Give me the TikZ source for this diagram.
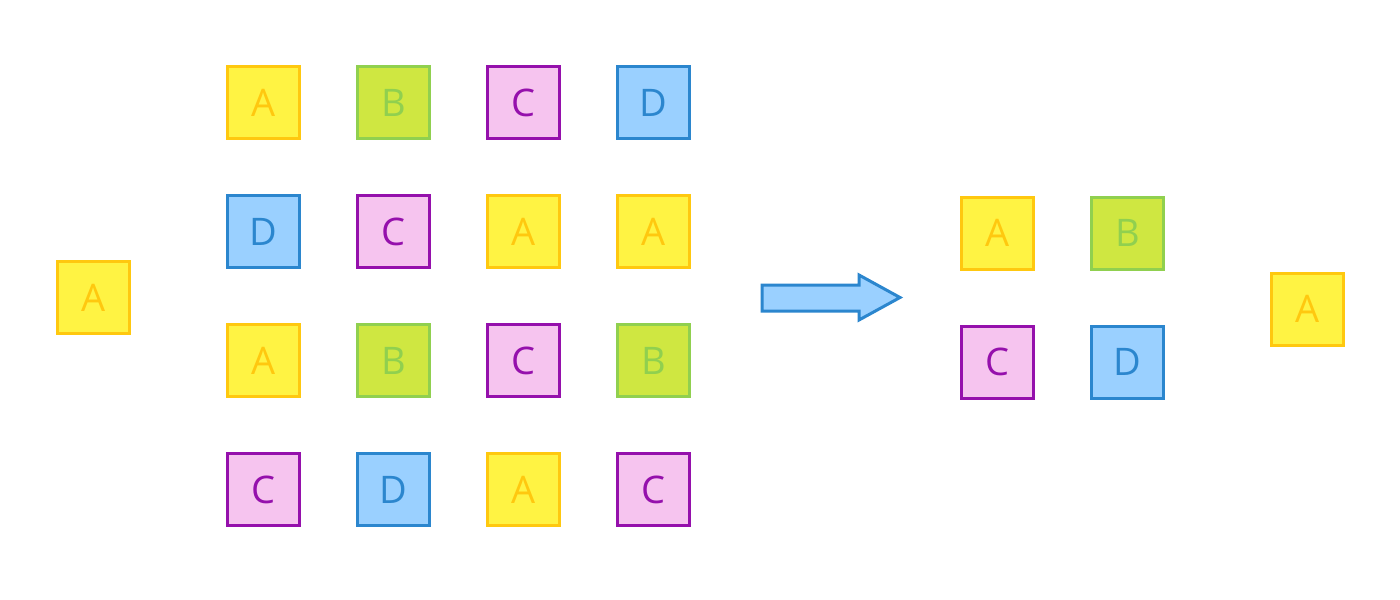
\documentclass[tikz,border=0pt]{standalone}
\usepackage{fontspec}
\setmainfont{Open Sans}
\definecolor{yelFill}{HTML}{FFF343}
\definecolor{yelLine}{HTML}{FFC80F}
\definecolor{grnFill}{HTML}{CFE741}
\definecolor{grnLine}{HTML}{90D04F}
\definecolor{pnkFill}{HTML}{F6C4EF}
\definecolor{pnkLine}{HTML}{9510AC}
\definecolor{bluFill}{HTML}{9AD0FF}
\definecolor{bluLine}{HTML}{2B86CE}
\tikzset{
  card/.style={shape=rectangle,minimum size=36pt,inner sep=0pt,line width=1.5pt,font=\fontsize{19}{19}\selectfont},
  cardA/.style={card,draw=yelLine,fill=yelFill,text=yelLine},
  cardB/.style={card,draw=grnLine,fill=grnFill,text=grnLine},
  cardC/.style={card,draw=pnkLine,fill=pnkFill,text=pnkLine},
  cardD/.style={card,draw=bluLine,fill=bluFill,text=bluLine}
}

\begin{document}
\begin{tikzpicture}[x=0.5pt,y=-0.5pt]
\useasboundingbox (0,0) rectangle (1400,599);

\node[cardA] (in) at (93.5,297.5) {A};

\node[cardA] (g11) at (263.5,102.5) {A};
\node[cardB] (g12) at (393.5,102.5) {B};
\node[cardC] (g13) at (523.5,102.5) {C};
\node[cardD] (g14) at (653.5,102.5) {D};

\node[cardD] (g21) at (263.5,231.5) {D};
\node[cardC] (g22) at (393.5,231.5) {C};
\node[cardA] (g23) at (523.5,231.5) {A};
\node[cardA] (g24) at (653.5,231.5) {A};

\node[cardA] (g31) at (263.5,360.5) {A};
\node[cardB] (g32) at (393.5,360.5) {B};
\node[cardC] (g33) at (523.5,360.5) {C};
\node[cardB] (g34) at (653.5,360.5) {B};

\node[cardC] (g41) at (263.5,489.5) {C};
\node[cardD] (g42) at (393.5,489.5) {D};
\node[cardA] (g43) at (523.5,489.5) {A};
\node[cardC] (g44) at (653.5,489.5) {C};

% arrow
\draw[line width=1.5pt,draw=bluLine,fill=bluFill,line join=miter]
  (762,285) -- (859,285) -- (859,275) -- (900,297.5) -- (859,320) -- (859,311) -- (762,311) -- cycle;

\node[cardA] (r11) at (997.5,233) {A};
\node[cardB] (r12) at (1127.5,233) {B};
\node[cardC] (r21) at (997.5,362) {C};
\node[cardD] (r22) at (1127.5,362) {D};

\node[cardA] (out) at (1307.5,309) {A};
\end{tikzpicture}
\end{document}
